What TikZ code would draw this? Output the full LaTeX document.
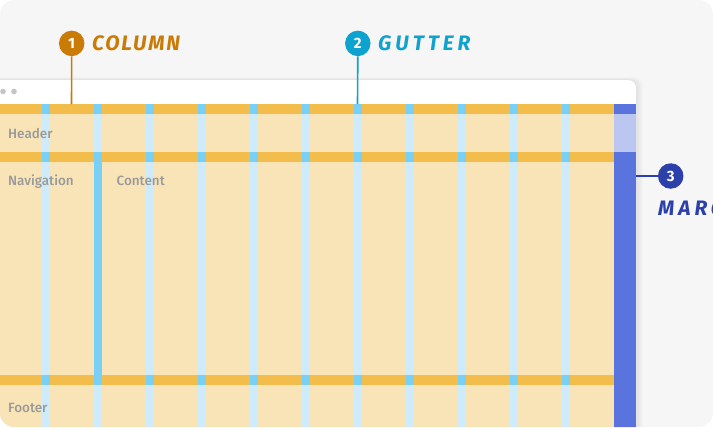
\documentclass[tikz,border=0pt]{standalone}
\usepackage{fontspec}
\setmainfont{Fira Sans}
\newfontfamily\handfont[LetterSpace=8.5]{Fira Sans}
\newfontfamily\handwidefont[LetterSpace=19]{Fira Sans}
\newfontfamily\labfont[UprightFont=* Medium]{Fira Sans}
\definecolor{bgGray}{HTML}{F6F6F6}
\definecolor{barO}{HTML}{F3BD4B}
\definecolor{fillO}{HTML}{F9E4B7}
\definecolor{gutL}{HTML}{CDEBFA}
\definecolor{gutD}{HTML}{78D0F7}
\definecolor{marB}{HTML}{5A74DE}
\definecolor{marL}{HTML}{BBC6F1}
\definecolor{dotG}{HTML}{C4C4C4}
\definecolor{labG}{HTML}{9A9A9A}
\definecolor{colO}{HTML}{C97B06}
\definecolor{colT}{HTML}{0EA2CF}
\definecolor{colB}{HTML}{2B40A8}
\begin{document}
\begin{tikzpicture}[x=1bp,y=-1bp,
  badge/.style={circle,fill=#1,minimum size=25.5bp,inner sep=0pt,text=white,
    font=\bfseries\fontsize{15}{15}\selectfont},
  handlabel/.style={anchor=west,inner sep=0pt,text=#1,
    font=\handfont\bfseries\itshape\fontsize{21}{21}\selectfont},
  handwide/.style={anchor=west,inner sep=0pt,text=#1,
    font=\handwidefont\bfseries\itshape\fontsize{21}{21}\selectfont},
  arealabel/.style={anchor=base west,inner sep=0pt,text=labG,
    font=\labfont\fontsize{13.5}{13.5}\selectfont},
  leader/.style={draw=#1,line width=1.6bp}]
\useasboundingbox (0,0) rectangle (713,427);
\begin{scope}
  \clip[rounded corners=14bp] (0,0) rectangle (713,427);
  \fill[bgGray] (0,0) rectangle (713,427);
  % soft shadow of the window
  \foreach \i in {1,...,7}
    \fill[black,opacity=0.012,rounded corners=9bp] ({-20-\i},{80-0.4*\i}) rectangle ({636+\i},440);
  % window
  \fill[white,rounded corners=8bp] (-20,80) rectangle (636,440);
  \fill[dotG] (3,91.5) circle (2.8bp);
  \fill[dotG] (14,91.5) circle (2.8bp);
  % content area
  \fill[fillO] (-20,104) rectangle (614,440);
  \foreach \y in {104,152,375}
    \fill[barO] (-20,\y) rectangle (614,{\y+10.3});
  \foreach \k in {0,...,10}
    \fill[gutL] ({41.5+52*\k},104) rectangle ({49.5+52*\k},440);
  \foreach \k in {0,...,10}
    \foreach \y in {104,152,375}
      \fill[gutD] ({41.5+52*\k},\y) rectangle ({49.5+52*\k},{\y+10.3});
  \fill[gutD] (93.5,152) rectangle (101.5,385.3);
  % margin
  \fill[marB] (614,104) rectangle (636,440);
  \fill[marL] (614,114.3) rectangle (636,152);
  % area labels
  \node[arealabel] (hdr) at (8,138.3) {Header};
  \node[arealabel] (nav) at (8,185) {Navigation};
  \node[arealabel] (cnt) at (116.5,185) {Content};
  \node[arealabel] (ftr) at (8,412.3) {Footer};
  % callouts
  \coordinate (e1) at (71.5,104);
  \coordinate (e2) at (357.5,104);
  \coordinate (e3) at (636,176);
  \node[badge=colO] (c1) at (71.7,43.4) {1};
  \node[badge=colT] (c2) at (357.8,43.4) {2};
  \node[badge=colB] (c3) at (670.7,176) {3};
  \draw[leader=colO] (c1.south) -- (e1);
  \draw[leader=colT] (c2.south) -- (e2);
  \draw[leader=colB] (e3) -- (c3.west);
  \node[handlabel=colO] (t1) at (92,43.4) {COLUMN};
  \node[handwide=colT] (t2) at (378,43.4) {GUTTER};
  \node[handwide=colB] (t3) at (658,208) {MARGIN};
\end{scope}
\end{tikzpicture}
\end{document}
